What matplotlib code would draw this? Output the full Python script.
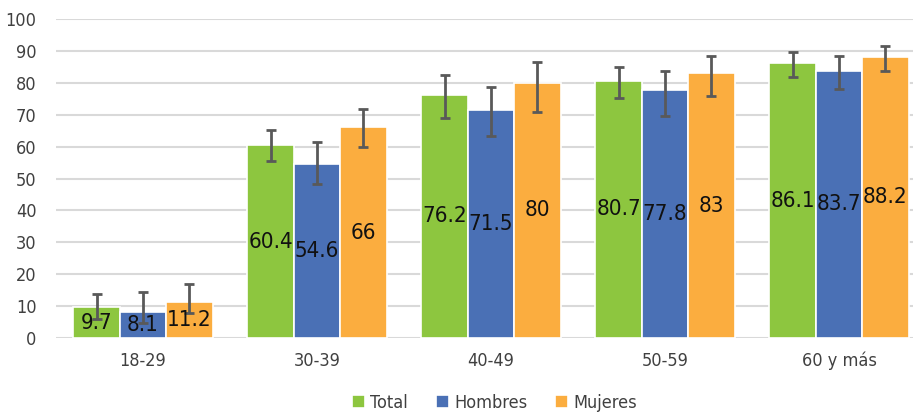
import numpy as np
import matplotlib
matplotlib.use("Agg")
import matplotlib.pyplot as plt

plt.rcParams['font.family'] = ['DejaVu Sans']
plt.rcParams['font.stretch'] = 'condensed'

categories = ["18-29", "30-39", "40-49", "50-59", "60 y más"]
series = ["Total", "Hombres", "Mujeres"]
values = {
    "Total": [9.7, 60.4, 76.2, 80.7, 86.1],
    "Hombres": [8.1, 54.6, 71.5, 77.8, 83.7],
    "Mujeres": [11.2, 66, 80, 83, 88.2],
}
# lower / upper ends of the error bars
low = {
    "Total": [5.8, 55.5, 69.1, 75.3, 81.8],
    "Hombres": [4.8, 48.4, 63.2, 69.6, 78.1],
    "Mujeres": [7.7, 60.0, 70.8, 76.0, 83.8],
}
high = {
    "Total": [13.8, 65.2, 82.5, 85.0, 89.7],
    "Hombres": [14.3, 61.3, 78.7, 83.8, 88.4],
    "Mujeres": [16.9, 71.7, 86.5, 88.4, 91.6],
}
colors = {"Total": "#8dc63f", "Hombres": "#4a70b5", "Mujeres": "#fbad3f"}

fig = plt.figure(figsize=(9.13, 4.16), dpi=100)
ax = fig.add_axes([56 / 913, 78 / 416, 870 / 913, 319 / 416])

x = np.arange(len(categories))
w = 0.8 / 3
for i, s in enumerate(series):
    v = np.array(values[s])
    err = [v - np.array(low[s]), np.array(high[s]) - v]
    bars = ax.bar(x + (i - 1) * w, v, w, color=colors[s], edgecolor="white",
                  linewidth=1.2, label=s, zorder=2)
    ax.errorbar(x + (i - 1) * w, v, yerr=err, fmt="none", ecolor="#595959",
                elinewidth=2, capsize=3.3, capthick=2, zorder=3)
    ax.bar_label(bars, labels=[f"{val:g}" for val in v], label_type="center",
                 fontsize=16, color="#111111")

ax.set_ylim(0, 100)
ax.set_xlim(-0.5, len(categories) - 0.5)
ax.set_yticks(np.arange(0, 101, 10))
ax.set_xticks(x)
ax.set_xticklabels(categories)
ax.tick_params(axis="both", length=0, labelsize=13, labelcolor="#404040")
ax.tick_params(axis="x", pad=10)
ax.tick_params(axis="y", pad=14)
ax.grid(axis="y", color="#d9d9d9", linewidth=1.5, zorder=0)
ax.set_axisbelow(True)
for sp in ax.spines.values():
    sp.set_visible(False)

ax.legend(loc="upper center", bbox_to_anchor=(0.504, -0.125), ncol=3,
          frameon=False, fontsize=13, handlelength=0.7, handleheight=0.7,
          handletextpad=0.3, columnspacing=1.55, labelcolor="#404040")

fig.savefig("out.png", dpi=100)
